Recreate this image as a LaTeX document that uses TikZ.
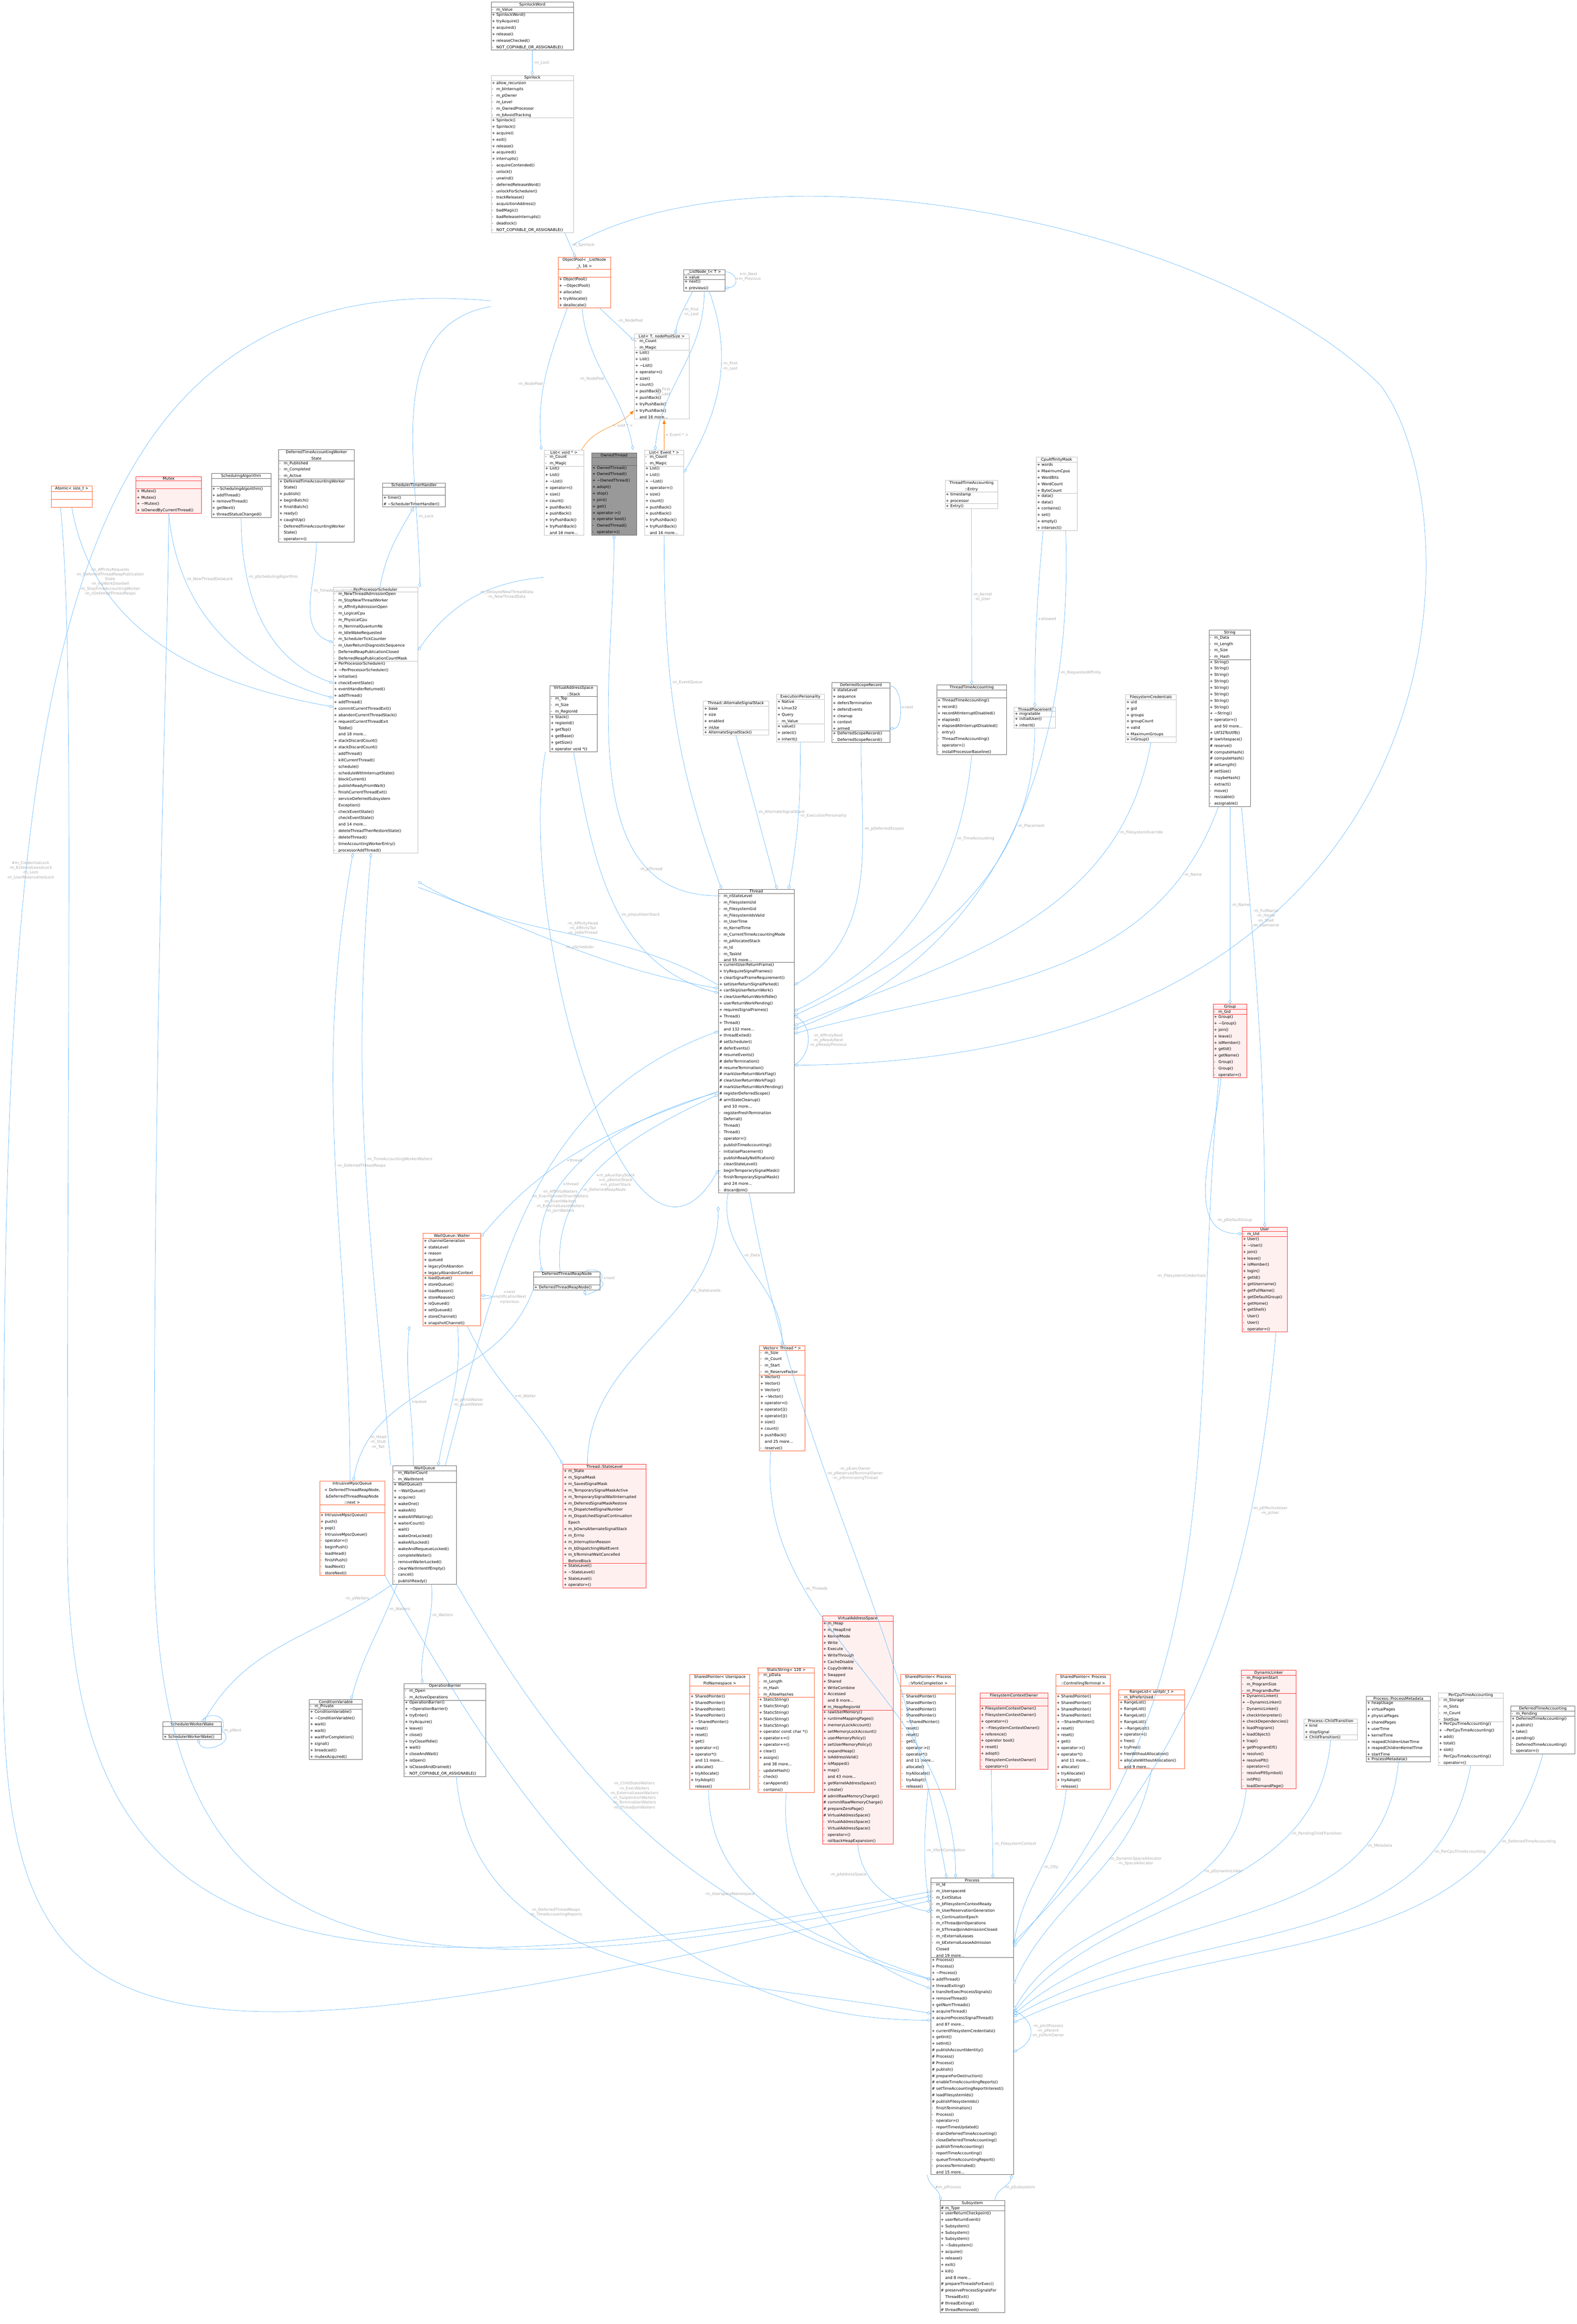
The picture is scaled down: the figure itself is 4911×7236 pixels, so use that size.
\documentclass[tikz,border=0pt]{standalone}
\usepackage{fontspec}
\setmainfont{DejaVu Sans}
\usetikzlibrary{shapes.multipart,arrows.meta}

\definecolor{edgeblue}{HTML}{63B8FF}
\definecolor{lblgrey}{HTML}{A8A8A8}
\definecolor{redfill}{HTML}{FFF0F0}
\definecolor{redline}{HTML}{FF3030}
\definecolor{orangeline}{HTML}{FF5A28}
\definecolor{lightline}{HTML}{BFBFBF}
\definecolor{darkline}{HTML}{666666}

% visibility marks
\newcommand{\vp}{\makebox[4pt][l]{+}}
\newcommand{\vm}{\makebox[4pt][l]{-}}
\newcommand{\vh}{\makebox[4pt][l]{\#}}
\newcommand{\vn}{\hspace*{4pt}}
\newcommand{\ct}{\\\hspace*{4pt}}

% class box: [style]{name}{x}{y}{width}{title}{attributes}{methods}
\newcommand{\umlbox}[8][cls]{%
  \pgfmathsetlengthmacro{\boxw}{#5*0.01cm-1.4pt}%
  \node[#1, text width=\boxw] (#2) at (#3,#4)
    {\centering #6\par\nodepart{second}#7\nodepart{third}#8};}

\tikzset{
  cls/.style={draw=darkline, fill=white, line width=0.3pt, anchor=north west,
    rectangle split, rectangle split parts=3, inner xsep=0.7pt, inner ysep=0.5pt,
    font=\fontsize{3.4}{5.7}\selectfont},
  clslight/.style={cls, draw=lightline},
  clsred/.style={cls, draw=redline, fill=redfill},
  clsorange/.style={cls, draw=orangeline},
  clsfocus/.style={cls, fill=black!40, draw=black!60},
  ag/.style={draw=edgeblue, line width=0.3pt, {Diamond[open,length=4pt,width=2.6pt]}-},
  tpl/.style={draw=orange, line width=0.3pt, -{Latex[length=4pt,width=3pt]}},
  inh/.style={draw=edgeblue, line width=0.3pt, -{Triangle[open,length=4pt,width=3pt]}},
  lbl/.style={text=lblgrey, font=\fontsize{3.4}{4.2}\selectfont, align=center, inner sep=1pt},
}

\begin{document}
\begin{tikzpicture}[x=0.01cm, y=-0.01cm]
  \useasboundingbox (0,0) rectangle (4911,7236);

  % top: locks and lists
  \umlbox{SpinlockWord}{1529}{6}{257}{SpinlockWord}
    {\vm m\_Value}
    {\vp SpinlockWord()\\\vp tryAcquire()\\\vp acquired()\\\vp release()\\\vp releaseChecked()\\\vm NOT\_COPYABLE\_OR\_ASSIGNABLE()}
  \umlbox[clslight]{Spinlock}{1529}{234}{257}{Spinlock}
    {\vp allow\_recursion\\\vm m\_bInterrupts\\\vm m\_pOwner\\\vm m\_Level\\\vm m\_OwnedProcessor\\\vm m\_bAvoidTracking}
    {\vp Spinlock()\\\vp Spinlock()\\\vp acquire()\\\vp exit()\\\vp release()\\\vp acquired()\\\vp interrupts()\\\vm acquireContended()\\\vm unlock()\\\vm unwind()\\\vm deferredReleaseWord()\\\vm unlockForScheduler()\\\vm trackRelease()\\\vm acquisitionAddress()\\\vm badMagic()\\\vm badReleaseInterrupts()\\\vm deadlock()\\\vm NOT\_COPYABLE\_OR\_ASSIGNABLE()}
  \umlbox[clsorange]{ObjectPool}{1738}{801}{163}{ObjectPool< \_ListNode\\\_t, 16 >}
    {\strut}
    {\vp ObjectPool()\\\vp \textasciitilde ObjectPool()\\\vp allocate()\\\vp tryAllocate()\\\vp deallocate()}
  \umlbox{ListNode}{2129}{839}{128}{\_ListNode\_t< T >}
    {\vp value}
    {\vp next()\\\vp previous()}
  \umlbox[clslight]{ListT}{1975}{1039}{171}{List< T, nodePoolSize >}
    {\vm m\_Count\\\vm m\_Magic}
    {\vp List()\\\vp List()\\\vp \textasciitilde List()\\\vp operator=()\\\vp size()\\\vp count()\\\vp pushBack()\\\vp pushBack()\\\vp tryPushBack()\\\vp tryPushBack()\\\vn and 16 more...}
  \umlbox[clslight]{ListVoid}{1695}{1401}{122}{List< void * >}
    {\vm m\_Count\\\vm m\_Magic}
    {\vp List()\\\vp List()\\\vp \textasciitilde List()\\\vp operator=()\\\vp size()\\\vp count()\\\vp pushBack()\\\vp pushBack()\\\vp tryPushBack()\\\vp tryPushBack()\\\vn and 16 more...}
  \umlbox[clsfocus]{OwnedThread}{1842}{1410}{140}{OwnedThread}
    {\strut}
    {\vp OwnedThread()\\\vp OwnedThread()\\\vp \textasciitilde OwnedThread()\\\vp adopt()\\\vp stop()\\\vp join()\\\vp get()\\\vp operator->()\\\vp operator bool()\\\vm OwnedThread()\\\vm operator=()}
  \umlbox[clslight]{ListEvent}{2007}{1401}{122}{List< Event * >}
    {\vm m\_Count\\\vm m\_Magic}
    {\vp List()\\\vp List()\\\vp \textasciitilde List()\\\vp operator=()\\\vp size()\\\vp count()\\\vp pushBack()\\\vp pushBack()\\\vp tryPushBack()\\\vp tryPushBack()\\\vn and 16 more...}

  % scheduler row
  \umlbox[clsorange]{Atomic}{159}{1513}{128}{Atomic< size\_t >}{\strut}{\strut}
  \umlbox[clsred]{Mutex}{423}{1483}{204}{Mutex}
    {\strut}
    {\vp Mutex()\\\vp Mutex()\\\vp \textasciitilde Mutex()\\\vp isOwnedByCurrentThread()}
  \umlbox{SchedAlg}{658}{1473}{185}{SchedulingAlgorithm}
    {\strut}
    {\vp \textasciitilde SchedulingAlgorithm()\\\vp addThread()\\\vp removeThread()\\\vp getNext()\\\vp threadStatusChanged()}
  \umlbox{WorkerState}{867}{1400}{236}{DeferredTimeAccountingWorker\\State}
    {\vm m\_Published\\\vm m\_Completed\\\vm m\_Active}
    {\vp DeferredTimeAccountingWorker\ct State()\\\vp publish()\\\vp beginBatch()\\\vp finishBatch()\\\vp ready()\\\vp caughtUp()\\\vm DeferredTimeAccountingWorker\ct State()\\\vm operator=()}
  \umlbox{TimerHandler}{1191}{1503}{196}{SchedulerTimerHandler}
    {\strut}
    {\vp timer()\\\vh \textasciitilde SchedulerTimerHandler()}
  \umlbox[clslight]{PPS}{1037}{1828}{264}{PerProcessorScheduler}
    {\vm m\_NewThreadAdmissionOpen\\\vm m\_StopNewThreadWorker\\\vm m\_AffinityAdmissionOpen\\\vm m\_LogicalCpu\\\vm m\_PhysicalCpu\\\vm m\_NominalQuantumNs\\\vm m\_IdleWakeRequested\\\vm m\_SchedulerTickCounter\\\vm m\_UserReturnDiagnosticSequence\\\vm DeferredReapPublicationClosed\\\vm DeferredReapPublicationCountMask}
    {\vp PerProcessorScheduler()\\\vp \textasciitilde PerProcessorScheduler()\\\vp initialise()\\\vp checkEventState()\\\vp eventHandlerReturned()\\\vp addThread()\\\vp addThread()\\\vp commitCurrentThreadExit()\\\vp abandonCurrentThreadStack()\\\vp requestCurrentThreadExit\ct ToIdle()\\\vn and 18 more...\\\vp stackDiscardCount()\\\vp stackDiscardCount()\\\vm addThread()\\\vm killCurrentThread()\\\vm schedule()\\\vm scheduleWithInterruptState()\\\vm blockCurrent()\\\vm publishReadyFromWait()\\\vm finishCurrentThreadExit()\\\vm serviceDeferredSubsystem\ct Exception()\\\vm checkEventState()\\\vn checkEventState()\\\vn and 14 more...\\\vm deleteThreadThenRestoreState()\\\vm deleteThread()\\\vm timeAccountingWorkerEntry()\\\vm processorAddThread()}

  % thread members
  \umlbox[clslight]{Entry}{2943}{1495}{164}{ThreadTimeAccounting\\::Entry}
    {\vp timestamp\\\vp processor}
    {\vp Entry()}
  \umlbox[clslight]{CpuMask}{3227}{1423}{127}{CpuAffinityMask}
    {\vp words\\\vp MaximumCpus\\\vp WordBits\\\vp WordCount\\\vp ByteCount}
    {\vp data()\\\vp data()\\\vp contains()\\\vp set()\\\vp empty()\\\vp intersect()}
  \umlbox{String}{3765}{1961}{129}{String}
    {\vm m\_Data\\\vm m\_Length\\\vm m\_Size\\\vm m\_Hash}
    {\vp String()\\\vp String()\\\vp String()\\\vp String()\\\vp String()\\\vp String()\\\vp String()\\\vp String()\\\vp \textasciitilde String()\\\vp operator=()\\\vn and 50 more...\\\vp Utf32ToUtf8()\\\vh iswhitespace()\\\vh reserve()\\\vh computeHash()\\\vh computeHash()\\\vh setLength()\\\vh setSize()\\\vm maybeHash()\\\vm extract()\\\vm move()\\\vm resizable()\\\vm assignable()}
  \umlbox{StackBox}{1712}{2134}{148}{VirtualAddressSpace\\::Stack}
    {\vm m\_Top\\\vm m\_Size\\\vm m\_RegionId}
    {\vp Stack()\\\vp regionId()\\\vp getTop()\\\vp getBase()\\\vp getSize()\\\vp operator void *()}
  \umlbox[clslight]{AltStack}{2190}{2182}{203}{Thread::AlternateSignalStack}
    {\vp base\\\vp size\\\vp enabled\\\vp inUse}
    {\vp AlternateSignalStack()}
  \umlbox[clslight]{Personality}{2418}{2161}{149}{ExecutionPersonality}
    {\vp Native\\\vp Linux32\\\vp Query\\\vm m\_Value}
    {\vp value()\\\vp select()\\\vp inherit()}
  \umlbox{ScopeRecord}{2591}{2125}{180}{DeferredScopeRecord}
    {\vp stateLevel\\\vp sequence\\\vp defersTermination\\\vp defersEvents\\\vp cleanup\\\vp context\\\vp armed}
    {\vp DeferredScopeRecord()\\\vm DeferredScopeRecord()}
  \umlbox{TimeAcc}{2917}{2132}{218}{ThreadTimeAccounting}
    {\strut}
    {\vp ThreadTimeAccounting()\\\vp record()\\\vp recordAtInterruptDisabled()\\\vp elapsed()\\\vp elapsedAtInterruptDisabled()\\\vm entry()\\\vm ThreadTimeAccounting()\\\vm operator=()\\\vm installProcessorBaseline()}
  \umlbox[clslight]{Placement}{3158}{2201}{129}{ThreadPlacement}
    {\vp migratable}
    {\vp initialUser()\\\vp inherit()}
  \umlbox[clslight]{FsCreds}{3505}{2162}{158}{FilesystemCredentials}
    {\vp uid\\\vp gid\\\vp groups\\\vp groupCount\\\vp valid\\\vp MaximumGroups}
    {\vp inGroup()}

  % thread
  \umlbox{Thread}{2237}{2768}{236}{Thread}
    {\vm m\_nStateLevel\\\vm m\_FilesystemUid\\\vm m\_FilesystemGid\\\vm m\_FilesystemIdsValid\\\vm m\_UserTime\\\vm m\_KernelTime\\\vm m\_CurrentTimeAccountingMode\\\vm m\_pAllocatedStack\\\vm m\_Id\\\vm m\_TaskId\\\vn and 55 more...}
    {\vp currentUserReturnFrame()\\\vp tryRequireSignalFrames()\\\vp clearSignalFrameRequirement()\\\vp setUserReturnSignalParked()\\\vp canSkipUserReturnWork()\\\vp clearUserReturnWorkIfIdle()\\\vp userReturnWorkPending()\\\vp requiresSignalFrames()\\\vp Thread()\\\vp Thread()\\\vn and 132 more...\\\vp threadExited()\\\vh setScheduler()\\\vh deferEvents()\\\vh resumeEvents()\\\vh deferTermination()\\\vh resumeTermination()\\\vh markUserReturnWorkFlag()\\\vh clearUserReturnWorkFlag()\\\vh markUserReturnWorkPending()\\\vh registerDeferredScope()\\\vh armStateCleanup()\\\vn and 10 more...\\\vm registerFreshTermination\ct Deferral()\\\vm Thread()\\\vm Thread()\\\vm operator=()\\\vm publishTimeAccounting()\\\vm initialisePlacement()\\\vm publishReadyNotification()\\\vm cleanStateLevel()\\\vm beginTemporarySignalMask()\\\vm finishTemporarySignalMask()\\\vn and 24 more...\\\vm discardJoin()}
  \umlbox[clsred]{Group}{3778}{3126}{105}{Group}
    {\vm m\_Gid}
    {\vp Group()\\\vp \textasciitilde Group()\\\vp join()\\\vp leave()\\\vp isMember()\\\vp getId()\\\vp getName()\\\vm Group()\\\vm Group()\\\vm operator=()}
  \umlbox[clsred]{User}{3868}{3820}{141}{User}
    {\vm m\_Uid}
    {\vp User()\\\vp \textasciitilde User()\\\vp join()\\\vp leave()\\\vp isMember()\\\vp login()\\\vp getId()\\\vp getUsername()\\\vp getFullName()\\\vp getDefaultGroup()\\\vp getHome()\\\vp getShell()\\\vm User()\\\vm User()\\\vm operator=()}

  % waiting
  \umlbox[clsorange]{Waiter}{1317}{3840}{180}{WaitQueue::Waiter}
    {\vp channelGeneration\\\vp stateLevel\\\vp reason\\\vp queued\\\vp legacyOnAbandon\\\vp legacyAbandonContext}
    {\vp loadQueue()\\\vp storeQueue()\\\vp loadReason()\\\vp storeReason()\\\vp isQueued()\\\vp setQueued()\\\vp storeChannel()\\\vp snapshotChannel()}
  \umlbox{ReapNode}{1661}{3959}{208}{DeferredThreadReapNode}
    {\strut}
    {\vp DeferredThreadReapNode()}
  \umlbox[clsorange]{Vector}{2365}{4190}{141}{Vector< Thread * >}
    {\vm m\_Size\\\vm m\_Count\\\vm m\_Start\\\vm m\_ReserveFactor}
    {\vp Vector()\\\vp Vector()\\\vp Vector()\\\vp \textasciitilde Vector()\\\vp operator=()\\\vp operator[]()\\\vp operator[]()\\\vp size()\\\vp count()\\\vp pushBack()\\\vn and 25 more...\\\vm reserve()}
  \umlbox[clsorange]{MpscQueue}{995}{4611}{203}{IntrusiveMpscQueue\\< DeferredThreadReapNode,\\\&DeferredThreadReapNode\\::next >}
    {\strut}
    {\vp IntrusiveMpscQueue()\\\vp push()\\\vp pop()\\\vm IntrusiveMpscQueue()\\\vm operator=()\\\vm beginPush()\\\vm loadHead()\\\vm finishPush()\\\vm loadNext()\\\vm storeNext()}
  \umlbox{WaitQueue}{1223}{4563}{198}{WaitQueue}
    {\vm m\_WaiterCount\\\vm m\_WaitIntent}
    {\vp WaitQueue()\\\vp \textasciitilde WaitQueue()\\\vp acquire()\\\vp wakeOne()\\\vp wakeAll()\\\vp wakeAllIfWaiting()\\\vp waiterCount()\\\vm wait()\\\vm wakeOneLocked()\\\vm wakeAllLocked()\\\vm wakeAndRequeueLocked()\\\vm completeWaiter()\\\vm removeWaiterLocked()\\\vm clearWaitIntentIfEmpty()\\\vm cancel()\\\vm publishReady()}
  \umlbox[clsred]{StateLevel}{1753}{4559}{258}{Thread::StateLevel}
    {\vp m\_State\\\vp m\_SignalMask\\\vp m\_SavedSignalMask\\\vp m\_TemporarySignalMaskActive\\\vp m\_TemporarySignalWaitInterrupted\\\vp m\_DeferredSignalMaskRestore\\\vp m\_DispatchedSignalNumber\\\vp m\_DispatchedSignalContinuation\ct Epoch\\\vp m\_bOwnsAlternateSignalStack\\\vp m\_Errno\\\vp m\_InterruptionReason\\\vp m\_bDispatchingWaitEvent\\\vp m\_bTerminalWaitCancelled\ct BeforeBlock}
    {\vp StateLevel()\\\vp \textasciitilde StateLevel()\\\vp StateLevel()\\\vp operator=()}
  \umlbox{WorkerWake}{507}{5361}{182}{SchedulerWorkerWake}
    {\strut}
    {\vp SchedulerWorkerWake()}
  \umlbox{CondVar}{963}{5291}{165}{ConditionVariable}
    {\vm m\_Private}
    {\vp ConditionVariable()\\\vp \textasciitilde ConditionVariable()\\\vp wait()\\\vp wait()\\\vp waitForCompletion()\\\vp signal()\\\vp broadcast()\\\vp mutexAcquired()}
  \umlbox{Barrier}{1258}{5241}{255}{OperationBarrier}
    {\vm m\_Open\\\vm m\_ActiveOperations}
    {\vp OperationBarrier()\\\vp \textasciitilde OperationBarrier()\\\vp tryEnter()\\\vp tryAcquire()\\\vp leave()\\\vp close()\\\vp tryCloseIfIdle()\\\vp wait()\\\vp closeAndWait()\\\vp isOpen()\\\vp isClosedAndDrained()\\\vm NOT\_COPYABLE\_OR\_ASSIGNABLE()}

  % process members
  \umlbox[clsorange]{PidNsPtr}{2148}{5213}{187}{SharedPointer< Userspace\\PidNamespace >}
    {\strut}
    {\vp SharedPointer()\\\vp SharedPointer()\\\vp SharedPointer()\\\vp SharedPointer()\\\vp \textasciitilde SharedPointer()\\\vp reset()\\\vp reset()\\\vp get()\\\vp operator->()\\\vp operator*()\\\vn and 11 more...\\\vp allocate()\\\vp tryAllocate()\\\vp tryAdopt()\\\vn release()}
  \umlbox[clsorange]{StaticStr}{2361}{5192}{175}{StaticString< 128 >}
    {\vm m\_pData\\\vm m\_Length\\\vm m\_Hash\\\vm m\_AllowHashes}
    {\vp StaticString()\\\vp StaticString()\\\vp StaticString()\\\vp StaticString()\\\vp StaticString()\\\vp operator const char *()\\\vp operator+=()\\\vp operator+=()\\\vp clear()\\\vp assign()\\\vn and 38 more...\\\vm updateHash()\\\vm check()\\\vm canAppend()\\\vm contains()}
  \umlbox[clsred]{AddrSpace}{2561}{5031}{220}{VirtualAddressSpace}
    {\vp m\_Heap\\\vp m\_HeapEnd\\\vp KernelMode\\\vp Write\\\vp Execute\\\vp WriteThrough\\\vp CacheDisable\\\vp CopyOnWrite\\\vp Swapped\\\vp Shared\\\vp WriteCombine\\\vp Accessed\\\vn and 8 more...\\\vh m\_HeapRegionId}
    {\vp rawUserMemory()\\\vp runtimeMappingPages()\\\vp memoryLockAccount()\\\vp setMemoryLockAccount()\\\vp userMemoryPolicy()\\\vp setUserMemoryPolicy()\\\vp expandHeap()\\\vp isAddressValid()\\\vp isMapped()\\\vp map()\\\vn and 43 more...\\\vp getKernelAddressSpace()\\\vp create()\\\vh admitRawMemoryCharge()\\\vh commitRawMemoryCharge()\\\vh prepareZeroPage()\\\vh VirtualAddressSpace()\\\vm VirtualAddressSpace()\\\vm VirtualAddressSpace()\\\vm operator=()\\\vm rollbackHeapExpansion()}
  \umlbox[clsorange]{VforkPtr}{2805}{5213}{170}{SharedPointer< Process\\::VforkCompletion >}
    {\strut}
    {\vm SharedPointer()\\\vm SharedPointer()\\\vm SharedPointer()\\\vm SharedPointer()\\\vm \textasciitilde SharedPointer()\\\vm reset()\\\vm reset()\\\vm get()\\\vm operator->()\\\vm operator*()\\\vn and 11 more...\\\vm allocate()\\\vm tryAllocate()\\\vm tryAdopt()\\\vm release()}
  \umlbox[clsred]{FsOwner}{3052}{5271}{211}{FilesystemContextOwner}
    {\strut}
    {\vp FilesystemContextOwner()\\\vp FilesystemContextOwner()\\\vp operator=()\\\vp \textasciitilde FilesystemContextOwner()\\\vp reference()\\\vp operator bool()\\\vp reset()\\\vp adopt()\\\vm FilesystemContextOwner()\\\vm operator=()}
  \umlbox[clsorange]{CttyPtr}{3288}{5213}{170}{SharedPointer< Process\\::ControllingTerminal >}
    {\strut}
    {\vp SharedPointer()\\\vp SharedPointer()\\\vp SharedPointer()\\\vp SharedPointer()\\\vp \textasciitilde SharedPointer()\\\vp reset()\\\vp reset()\\\vp get()\\\vp operator->()\\\vp operator*()\\\vn and 11 more...\\\vp allocate()\\\vp tryAllocate()\\\vp tryAdopt()\\\vm release()}
  \umlbox[clsorange]{Ranges}{3484}{5260}{205}{RangeList< uintptr\_t >}
    {\vm m\_bPreferUsed}
    {\vp RangeList()\\\vp RangeList()\\\vp RangeList()\\\vp RangeList()\\\vp \textasciitilde RangeList()\\\vp operator=()\\\vp free()\\\vp tryFree()\\\vp freeWithoutAllocation()\\\vp allocateWithoutAllocation()\\\vn and 9 more...}
  \umlbox[clsred]{Linker}{3866}{5200}{170}{DynamicLinker}
    {\vm m\_ProgramStart\\\vm m\_ProgramSize\\\vm m\_ProgramBuffer}
    {\vp DynamicLinker()\\\vp \textasciitilde DynamicLinker()\\\vm DynamicLinker()\\\vp checkInterpreter()\\\vp checkDependencies()\\\vp loadProgram()\\\vp loadObject()\\\vp trap()\\\vp getProgramElf()\\\vp resolve()\\\vp resolvePlt()\\\vm operator=()\\\vm resolvePltSymbol()\\\vm initPlt()\\\vm loadDemandPage()}
  \umlbox[clslight]{ChildTrans}{4061}{5351}{166}{Process::ChildTransition}
    {\vp kind\\\vp stopSignal}
    {\vp ChildTransition()}
  \umlbox{Metadata}{4255}{5281}{200}{Process::ProcessMetadata}
    {\vp heapUsage\\\vp virtualPages\\\vp physicalPages\\\vp sharedPages\\\vp userTime\\\vp kernelTime\\\vp reapedChildrenUserTime\\\vp reapedChildrenKernelTime\\\vp startTime}
    {\vp ProcessMetadata()}
  \umlbox[clslight]{CpuTimeAcc}{4479}{5270}{202}{PerCpuTimeAccounting}
    {\vm m\_Storage\\\vm m\_Slots\\\vm m\_Count\\\vm SlotSize}
    {\vp PerCpuTimeAccounting()\\\vp \textasciitilde PerCpuTimeAccounting()\\\vp add()\\\vp total()\\\vp slot()\\\vm PerCpuTimeAccounting()\\\vm operator=()}
  \umlbox{DeferredAcc}{4705}{5311}{200}{DeferredTimeAccounting}
    {\vm m\_Pending}
    {\vp DeferredTimeAccounting()\\\vp publish()\\\vp take()\\\vp pending()\\\vm DeferredTimeAccounting()\\\vm operator=()}

  % process and subsystem
  \umlbox{Process}{2899}{5847}{257}{Process}
    {\vm m\_Id\\\vm m\_UserspaceId\\\vm m\_ExitStatus\\\vm m\_bFilesystemContextReady\\\vm m\_UserReservationGeneration\\\vm m\_ContinuationEpoch\\\vm m\_nThreadJoinOperations\\\vm m\_bThreadJoinAdmissionClosed\\\vm m\_nExternalLeases\\\vm m\_bExternalLeaseAdmission\ct Closed\\\vn and 19 more...}
    {\vp Process()\\\vp Process()\\\vp \textasciitilde Process()\\\vp addThread()\\\vp threadExiting()\\\vp transferExecProcessSignals()\\\vp removeThread()\\\vp getNumThreads()\\\vp acquireThread()\\\vp acquireProcessSignalThread()\\\vn and 87 more...\\\vp currentFilesystemCredentials()\\\vp getInit()\\\vp setInit()\\\vh publishAccountIdentity()\\\vh Process()\\\vh Process()\\\vh publish()\\\vh prepareForDestruction()\\\vh enableTimeAccountingReports()\\\vh setTimeAccountingReportInterest()\\\vh loadFilesystemIds()\\\vh publishFilesystemIds()\\\vm finishTermination()\\\vm Process()\\\vm operator=()\\\vm reportTimesUpdated()\\\vm drainDeferredTimeAccounting()\\\vm closeDeferredTimeAccounting()\\\vm publishTimeAccounting()\\\vm reportTimeAccounting()\\\vm queueTimeAccountingReport()\\\vm processTerminated()\\\vn and 15 more...}
  \umlbox{Subsystem}{2927}{6851}{202}{Subsystem}
    {\vh m\_Type}
    {\vp userReturnCheckpoint()\\\vp userReturnEvent()\\\vp Subsystem()\\\vp Subsystem()\\\vp Subsystem()\\\vp \textasciitilde Subsystem()\\\vp acquire()\\\vp release()\\\vp exit()\\\vp kill()\\\vn and 8 more...\\\vh prepareThreadsForExec()\\\vh preserveProcessSignalsFor\ct ThreadExit()\\\vh threadExiting()\\\vh threadRemoved()}

  % connectors: locks and lists
  \draw[ag] (Spinlock.north) -- node[lbl,right]{-m\_Lock} (SpinlockWord.south);
  \draw[ag] ([xshift=-8pt]ObjectPool.north) -- node[lbl,right]{-m\_Spinlock} ([xshift=-8pt]Spinlock.south east);
  \draw[ag] ([yshift=-6pt]ListT.north west) -- node[lbl,above right]{-m\_NodePool} ([xshift=-10pt]ObjectPool.south east);
  \draw[ag] ([xshift=12pt]ListT.north) to[out=80,in=-115] node[lbl,right]{-m\_First\\-m\_Last} ([xshift=8pt]ListNode.south west);
  \draw[ag] ([yshift=-7pt]ListNode.east) .. controls +(14pt,2pt) and +(10pt,0pt) .. ([yshift=-2pt]ListNode.north east) node[lbl,right,pos=.6]{+m\_Next\\+m\_Previous};
  \draw[ag] ([xshift=-20pt]ListVoid.north) to[out=95,in=-110] node[lbl,pos=.45,left]{-m\_NodePool} ([xshift=-15pt]ObjectPool.south);
  \draw[ag] ([xshift=-10pt]ListEvent.north west) to[out=100,in=-85] node[lbl,pos=.5,left]{-m\_NodePool} ([xshift=-2pt]ObjectPool.south);
  \draw[ag] ([xshift=-8pt]ListEvent.north) to[out=85,in=-90] node[lbl,pos=.35,left]{-m\_First\\-m\_Last} (ListNode.south);
  \draw[ag] ([yshift=-20pt]ListEvent.north east) to[out=60,in=-70] node[lbl,pos=.6,right]{-m\_First\\-m\_Last} ([xshift=-14pt]ListNode.south east);
  \draw[tpl] ([xshift=-2pt]ListVoid.north east) to[out=60,in=-135] node[lbl,pos=.6,right]{< void * >} ([yshift=8pt]ListT.south west);
  \draw[tpl] (ListEvent.north) -- node[lbl,right]{< Event * >} (ListEvent.north |- ListT.south);

  % connectors: scheduler
  \draw[ag] ([yshift=-49pt]PPS.north west) to[out=160,in=-90] node[lbl,pos=.6,right]{-m\_TimeAccountingState} (WorkerState.south);
  \draw[ag] ([yshift=-85pt]PPS.north west) to[out=160,in=-90] node[lbl,pos=.72,right]{-m\_pSchedulingAlgorithm} (SchedAlg.south);
  \draw[ag] ([yshift=-98pt]PPS.north west) to[out=165,in=-85] node[lbl,pos=.75,right]{-m\_NewThreadDataLock} (Mutex.south);
  \draw[ag] ([yshift=-106pt]PPS.north west) to[out=170,in=-80] node[lbl,pos=.72,above]{-m\_AffinityRequests\\-m\_DeferredThreadReapPublication\\State\\-m\_IrqWorkDoorbell\\-m\_StopTimeAccountingWorker\\-m\_nDeferredThreadReaps} (Atomic.south);
  \draw[inh] ([xshift=4pt]PPS.north) to[out=80,in=-120] (TimerHandler.south);
  \draw[ag] ([yshift=-56pt]PPS.north east) to[out=55,in=185] node[lbl,pos=.55,right]{-m\_DelayedNewThreadData\\-m\_NewThreadData} ([yshift=-75pt]ListVoid.west);
  \draw[ag] ([xshift=-63pt]Spinlock.north west |- PPS.north) to[out=90,in=190] node[lbl,pos=.2,right]{-m\_Lock} ([yshift=-135pt]Spinlock.west);

  % connectors: thread
  \draw[ag] (OwnedThread.south) to[out=-90,in=180] node[lbl,pos=.8,above]{-m\_pThread} ([yshift=-6pt]Thread.north west);
  \draw[ag] ([xshift=3pt]Thread.north west) to[out=110,in=-90] node[lbl,pos=.6,right]{-m\_EventQueue} (ListEvent.south);
  \draw[ag] ([xshift=52pt]Thread.north west) -- node[lbl,right]{-m\_AlternateSignalStack} (AltStack.south);
  \draw[ag] ([xshift=-5pt]Thread.north east) to[out=80,in=-90] node[lbl,pos=.5,right]{-m\_ExecutionPersonality} (Personality.south);
  \draw[ag] ([yshift=-85pt]Thread.north east) to[out=30,in=-90] node[lbl,pos=.7,right]{-m\_pDeferredScopes} (ScopeRecord.south);
  \draw[ag] ([yshift=-14pt]ScopeRecord.east) .. controls +(12pt,0pt) and +(12pt,0pt) .. ([yshift=-3pt]ScopeRecord.north east) node[lbl,pos=.5,right]{+next};
  \draw[ag] ([yshift=-108pt]Thread.north east) to[out=25,in=-95] node[lbl,pos=.75,right]{-m\_TimeAccounting} (TimeAcc.south);
  \draw[ag] (TimeAcc.north) -- node[lbl,right]{-m\_Kernel\\-m\_User} (Entry.south);
  \draw[ag] (Placement.north) to[out=90,in=-95] node[lbl,right]{+allowed} ([xshift=-12pt]CpuMask.south);
  \draw[ag] ([yshift=-112pt]Thread.north east) to[out=25,in=-90] node[lbl,pos=.75,right]{-m\_Placement} (Placement.south);
  \draw[ag] ([yshift=-124pt]Thread.north east) to[out=20,in=-88] node[lbl,pos=.78,right]{-m\_RequestedAffinity} ([xshift=8pt]CpuMask.south);
  \draw[ag] ([yshift=-121pt]Thread.north east) to[out=22,in=-100] node[lbl,pos=.8,right]{-m\_FilesystemOverride} (FsCreds.south);
  \draw[ag] ([yshift=-128pt]Thread.north east) to[out=15,in=-110] node[lbl,pos=.85,right]{-m\_Name} ([xshift=-10pt]String.south);
  \draw[ag] ([yshift=-112pt]Thread.north east) .. controls +(16pt,-10pt) and +(16pt,10pt) .. ([yshift=-156pt]Thread.north east) node[lbl,pos=.5,right]{-m\_AffinityNext\\-m\_pReadyNext\\-m\_pReadyPrevious};
  \draw[ag] (Group.north) -- node[lbl,right]{-m\_Name} (Group.north |- String.south);
  \draw[ag] (User.north) to[out=90,in=-85] node[lbl,pos=.75,right]{-m\_FullName\\-m\_Home\\-m\_Shell\\-m\_Username} ([xshift=-8pt]String.south east);
  \draw[ag] ([yshift=-6pt]User.north west) to[out=180,in=-95] node[lbl,pos=.2,above right]{-m\_pDefaultGroup} ([xshift=-8pt]Group.south);
  \draw[ag] ([yshift=-25pt]PPS.south east) to[out=-30,in=150] node[lbl,pos=.55,above]{-m\_AffinityHead\\-m\_AffinityTail\\-m\_pIdleThread} ([yshift=-85pt]Thread.north west);
  \draw[ag] ([yshift=-88pt]Thread.north west) to[out=170,in=-20] node[lbl,pos=.45,above]{-m\_pScheduler} ([yshift=-30pt]PPS.south east);
  \draw[ag] ([yshift=-92pt]Thread.north west) to[out=165,in=-80] node[lbl,pos=.45,right]{-m\_pInputUserStack} (StackBox.south);
  \draw[ag] ([yshift=-249pt]Thread.north west) to[out=240,in=-100] node[lbl,pos=.3,left]{+m\_pAuxillaryStack\\+m\_pKernelStack\\+m\_pUserStack} ([xshift=-25pt]StackBox.south);

  % connectors: waiting
  \draw[ag] ([yshift=-3pt]Waiter.north east) to[out=50,in=200] node[lbl,pos=.4,right]{+thread} ([yshift=-179pt]Thread.north west);
  \draw[ag] ([xshift=-22pt]ReapNode.north) to[out=100,in=195] node[lbl,pos=.35,right]{+thread} ([yshift=-180pt]Thread.north west);
  \draw[ag] ([yshift=-182pt]Thread.north west) to[out=205,in=95] node[lbl,pos=.65,right]{-m\_DeferredReapNode} ([xshift=-6pt]ReapNode.north);
  \draw[ag] ([yshift=-14pt]Waiter.east) .. controls +(12pt,0pt) and +(12pt,0pt) .. ([yshift=-58pt]Waiter.north east) node[lbl,pos=.5,right]{+next\\+notificationNext\\+previous};
  \draw[ag] ([xshift=16pt]ReapNode.south) .. controls +(0pt,-6pt) and +(10pt,-4pt) .. (ReapNode.east) .. controls +(6pt,8pt) and +(6pt,4pt) .. ([xshift=16pt]ReapNode.north) node[lbl,pos=.1,right]{+next};
  \draw[ag] ([yshift=-12pt]Thread.south west) to[out=-90,in=90] node[lbl,pos=.3,right]{-m\_StateLevels} ([xshift=-15pt]StateLevel.north);
  \draw[ag] (Vector.north) to[out=90,in=-100] node[lbl,pos=.6,right]{-m\_Data} ([xshift=-25pt]Thread.south);
  \draw[ag] (StateLevel.north west) to[out=120,in=-65] node[lbl,pos=.5,right]{+m\_Waiter} ([xshift=-12pt]Waiter.south east);
  \draw[ag] ([xshift=-12pt]Waiter.south west) to[out=-95,in=90] node[lbl,pos=.55,right]{+queue} ([xshift=-10pt]WaitQueue.north);
  \draw[ag] ([xshift=12pt]WaitQueue.north) to[out=80,in=-85] node[lbl,pos=.45,right]{-m\_pFirstWaiter\\-m\_pLastWaiter} ([xshift=5pt]Waiter.south);
  \draw[ag] ([xshift=30pt]MpscQueue.north west) to[out=80,in=-110] node[lbl,pos=.15,right]{-m\_Head\\-m\_Stub\\-m\_Tail} ([xshift=-30pt]ReapNode.south);
  \draw[ag] ([xshift=-20pt]PPS.south) to[out=-100,in=90] node[lbl,pos=.5,right]{-m\_DeferredThreadReaps} ([xshift=-2pt]MpscQueue.north);
  \draw[ag] ([xshift=-4pt]PPS.south) to[out=-95,in=95] node[lbl,pos=.5,right]{-m\_TimeAccountingWorkerWaiters} ([xshift=-30pt]WaitQueue.north);
  \draw[ag] ([xshift=-10pt]CondVar.north east) to[out=75,in=-110] node[lbl,pos=.8,right]{-m\_Waiters} ([xshift=4pt]WaitQueue.south west);
  \draw[ag] ([xshift=-20pt]Barrier.north) to[out=95,in=-85] node[lbl,pos=.7,right]{-m\_Waiters} ([xshift=6pt]WaitQueue.south);
  \draw[ag] ([xshift=10pt]WorkerWake.north) to[out=60,in=-145] node[lbl,pos=.9,left]{-m\_pWaiters} (WaitQueue.south west);
  \draw[ag] ([xshift=5pt]WorkerWake.south) .. controls +(5pt,-14pt) and +(15pt,-10pt) .. (WorkerWake.east) .. controls +(8pt,14pt) and +(5pt,10pt) .. ([xshift=8pt]WorkerWake.north) node[lbl,pos=.0,right]{-m\_pNext};
  \draw[ag] ([yshift=-126pt]Thread.north west) to[out=200,in=75] node[lbl,pos=.5,right]{-m\_AffinityWaiters\\-m\_EventSenderDrainWaiters\\-m\_EventWaiters\\-m\_ExternalLeaseWaiters\\-m\_JoinWaiters} ([xshift=-10pt]WaitQueue.north east);

  % connectors: process
  \draw[ag] ([xshift=22pt]Process.north west) to[out=90,in=-95] node[lbl,pos=.7,right]{-m\_Threads} ([xshift=-10pt]Vector.south);
  \draw[ag] ([xshift=14pt]Process.north west) to[out=100,in=-80] node[lbl,pos=.6,right]{-m\_pExecOwner\\-m\_pReservedTerminalOwner\\-m\_pTerminatingThread} ([xshift=-40pt]Thread.south east);
  \draw[ag] ([yshift=-90pt]Process.north west) to[out=165,in=-60] node[lbl,pos=.6,right]{-m\_ChildStateWaiters\\-m\_ExecWaiters\\-m\_ExternalLeaseWaiters\\-m\_SuspensionWaiters\\-m\_TerminationWaiters\\-m\_ThreadJoinWaiters} (WaitQueue.south east);
  \draw[ag] ([yshift=-120pt]Process.north west) to[out=170,in=-85] node[lbl,pos=.7,right]{-m\_DeferredThreadReaps\\-m\_TimeAccountingReports} ([xshift=10pt]Barrier.south);
  \draw[ag] ([yshift=-126pt]Process.north west) to[out=180,in=-60] (MpscQueue.south east);
  \draw[ag] ([yshift=-90pt]Process.north west) to[out=160,in=-90] node[lbl,pos=.6,left]{-m\_UserspaceNamespace} ([xshift=-10pt]PidNsPtr.south);
  \draw[ag] ([yshift=-98pt]Process.north west) to[out=160,in=-95] (StaticStr.south);
  \draw[ag] ([yshift=-30pt]Process.north west) to[out=170,in=-85] node[lbl,pos=.7,left]{-m\_pAddressSpace} (AddrSpace.south);
  \draw[ag] ([yshift=-30pt]Process.north west) to[out=100,in=-95] node[lbl,pos=.5,right]{-m\_VforkCompletion} (VforkPtr.south);
  \draw[ag] ([xshift=55pt]Process.north west) to[out=90,in=-90] node[lbl,pos=.3,right]{-m\_FilesystemContext} ([xshift=-20pt]FsOwner.south);
  \draw[ag] ([yshift=-59pt]Process.north east) to[out=80,in=-95] node[lbl,pos=.5,right]{-m\_Ctty} ([xshift=-15pt]CttyPtr.south);
  \draw[ag] ([yshift=-94pt]Process.north east) to[out=65,in=-100] node[lbl,pos=.6,right]{-m\_DynamicSpaceAllocator\\-m\_SpaceAllocator} (Ranges.south);
  \draw[ag] ([yshift=-117pt]Process.north east) to[out=60,in=-95] node[lbl,pos=.7,right]{-m\_pDynamicLinker} ([xshift=-20pt]Linker.south);
  \draw[ag] ([yshift=-119pt]Process.north east) to[out=50,in=-95] node[lbl,pos=.75,right]{-m\_PendingChildTransition} (ChildTrans.south);
  \draw[ag] ([yshift=-121pt]Process.north east) to[out=40,in=-95] node[lbl,pos=.8,right]{-m\_Metadata} (Metadata.south);
  \draw[ag] ([yshift=-123pt]Process.north east) to[out=30,in=-100] node[lbl,pos=.82,right]{-m\_PerCpuTimeAccounting} (CpuTimeAcc.south);
  \draw[ag] ([yshift=-128pt]Process.north east) to[out=25,in=-105] node[lbl,pos=.84,right]{-m\_DeferredTimeAccounting} (DeferredAcc.south);
  \draw[ag] ([yshift=-154pt]Process.north east) .. controls +(20pt,10pt) and +(20pt,-10pt) .. ([yshift=-117pt]Process.north east) node[lbl,pos=.5,right]{-m\_pInitProcess\\-m\_pParent\\-m\_pVforkOwner};
  \draw[ag] ([yshift=-57pt]Process.north east) to[out=45,in=-95] node[lbl,pos=.75,right]{-m\_pEffectiveUser\\-m\_pUser} ([xshift=10pt]User.south);
  \draw[ag] ([yshift=-61pt]Process.north east) to[out=50,in=-95] node[lbl,pos=.8,left]{-m\_FilesystemCredentials} ([xshift=-10pt]Group.south);
  \draw[ag] ([xshift=-28pt]Subsystem.north) to[out=100,in=-80] node[lbl,pos=.5,right]{\#m\_pProcess} ([xshift=-40pt]Process.south);
  \draw[ag] ([xshift=35pt]Process.south) to[out=-100,in=85] node[lbl,pos=.5,right]{-m\_pSubsystem} ([xshift=20pt]Subsystem.north);
  \draw[ag] ([yshift=-20pt]Process.north west) .. controls (400,6500) and (10,6400) .. (10,5200) .. controls (10,2500) and (10,800) .. ([yshift=-130pt]Spinlock.west) node[lbl,pos=.0,right]{};
  \node[lbl] (lockLbl) at (95,2710) {\#m\_CredentialLock\\-m\_ExternalLeaseLock\\-m\_Lock\\-m\_UserReservationLock};
  \draw[ag] ([yshift=-12pt]Process.north west) .. controls (800,6300) and (210,6000) .. (210,4800) .. controls (210,3000) and (230,2000) .. ([xshift=-10pt]Atomic.south);
  \draw[ag] ([yshift=-16pt]Process.north west) .. controls (1000,6300) and (480,6000) .. (480,4800) .. controls (480,3000) and (525,2000) .. (Mutex.south);
  \draw[ag] ([yshift=-156pt]Thread.north east) .. controls (4600,3300) and (4600,1600) .. (4300,1200) .. controls (3800,700) and (2400,420) .. ([yshift=-80pt]Spinlock.east);
\end{tikzpicture}
\end{document}
